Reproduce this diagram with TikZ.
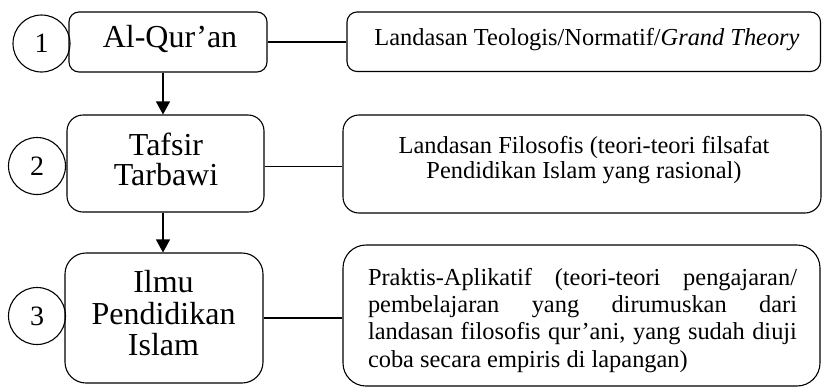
\documentclass[tikz,border=0pt]{standalone}
\usepackage{fontspec}
\setmainfont{Liberation Serif}
\usetikzlibrary{arrows.meta,calc}
\begin{document}
\begin{tikzpicture}[x=1pt,y=-1pt,
  box/.style={draw=black, line width=1.1pt, rectangle, inner sep=0pt},
  num/.style={draw=black, line width=1.1pt, circle, minimum size=57pt, inner sep=0pt, font=\fontsize{28}{30}\selectfont},
  lt/.style={font=\fontsize{32}{31.5}\selectfont, align=center, inner sep=0pt},
  rt/.style={font=\fontsize{24.4}{25.3}\selectfont, align=center, inner sep=0pt},
  rtj/.style={font=\fontsize{24.4}{27.33}\selectfont, align=left, inner sep=0pt},
  link/.style={line width=1.1pt},
  arr/.style={line width=1.1pt, -{Triangle[length=13pt,width=14pt]}}]
\useasboundingbox (0,0) rectangle (822,389);
% left boxes
\node[box, rounded corners=10pt, minimum width=198pt, minimum height=60pt] (b1) at (168,42) {};
\node[box, rounded corners=16pt, minimum width=197pt, minimum height=97pt] (b2) at (165.5,163.5) {};
\node[box, rounded corners=21pt, minimum width=198pt, minimum height=130pt] (b3) at (164,318) {};
% right boxes
\node[box, rounded corners=10pt, minimum width=473.5pt, minimum height=59.5pt] (r1) at (583.75,41.75) {};
\node[box, rounded corners=16pt, minimum width=478pt, minimum height=98pt] (r2) at (582,164) {};
\node[box, rounded corners=23pt, minimum width=477pt, minimum height=141pt] (r3) at (581.5,315.5) {};
% circles
\node[num] (c1) at (41.5,43.5) {1};
\node[num] (c2) at (37,166) {2};
\node[num] (c3) at (37,316) {3};
% texts
\node[lt, anchor=base] (t1) at (170,47) {Al-Qur’an};
\node[lt, font=\fontsize{32}{30}\selectfont] (t2) at (166,159) {Tafsir\\Tarbawi};
\node[lt] (t3) at (163.5,313.5) {Ilmu\\Pendidikan\\Islam};
\node[rt, anchor=base] (t4) at (587,45) {Landasan Teologis/Normatif/\textit{Grand Theory}};
\node[rt] (t5) at (584,160.3) {Landasan Filosofis (teori-teori filsafat\\Pendidikan Islam yang rasional)};
\node[rtj] (t6) at (582.5,320.3) {\makebox[429pt][s]{Praktis-Aplikatif (teori-teori pengajaran/}\\
\makebox[429pt][s]{pembelajaran yang dirumuskan dari}\\
\makebox[429pt][s]{landasan filosofis qur’ani, yang sudah diuji}\\
coba secara empiris di lapangan)};
% connectors
\coordinate (ax) at (163,0);
\draw[arr] (b1.south -| ax) -- (b2.north -| ax);
\draw[arr] (b2.south -| ax) -- (b3.north -| ax);
\draw[link] (b1.east) -- (b1.east -| r1.west);
\draw[link] ($(b2.east)+(0,3)$) -- ($(b2.east -| r2.west)+(0,3)$);
\draw[link] (b3.east) -- (b3.east -| r3.west);
\end{tikzpicture}
\end{document}
